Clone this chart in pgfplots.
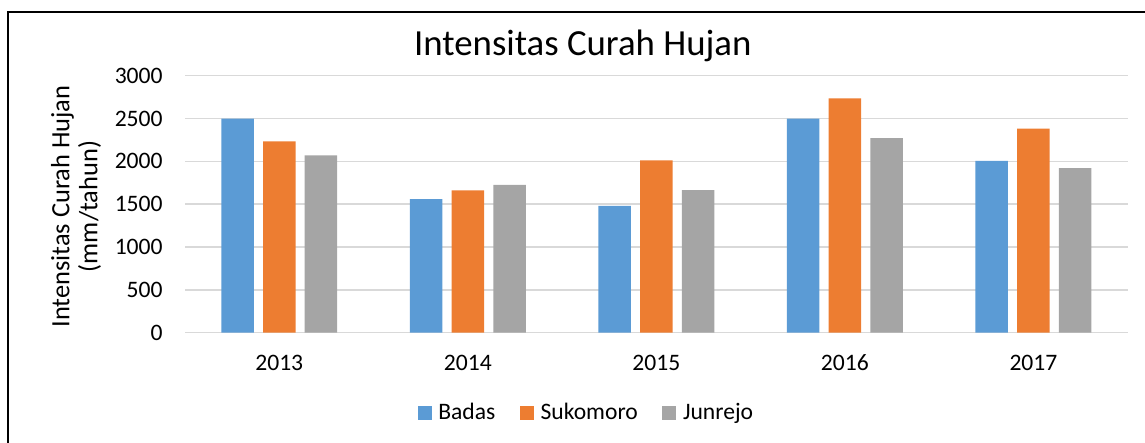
\documentclass[border=0pt]{standalone}
\usepackage{fontspec}
\setmainfont{Carlito}
\usepackage{pgfplots}
\pgfplotsset{compat=1.18}
\definecolor{cBadas}{HTML}{5B9BD5}
\definecolor{cSuko}{HTML}{ED7D31}
\definecolor{cJun}{HTML}{A5A5A5}
\definecolor{cGrid}{HTML}{D9D9D9}
\begin{document}
\begin{tikzpicture}
\useasboundingbox (0pt,0pt) rectangle (572.5pt,221.5pt);
\draw[line width=0.9pt, black] (4pt,-10pt) -- (4pt,215.5pt) -- (590pt,215.5pt);
\begin{axis}[
  at={(92.5pt,55.15pt)}, anchor=south west,
  scale only axis,
  width=471.35pt, height=128.5pt,
  xmin=-0.5, xmax=4.5,
  ymin=0, ymax=3000,
  ytick={0,500,1000,1500,2000,2500,3000},
  xtick={0,1,2,3,4},
  xticklabels={2013,2014,2015,2016,2017},
  ybar=4.6pt, bar width=16.25pt,
  axis line style={draw=none},
  major tick length=0pt,
  ymajorgrids, grid style={cGrid, line width=0.75pt},
  /pgf/number format/assume math mode=true,
  /pgf/number format/1000 sep={},
  ticklabel style={font=\fontsize{11.8}{14}\selectfont, text=black},
  yticklabel style={anchor=east, inner sep=0pt, xshift=-11pt},
  xticklabel style={anchor=base, inner sep=0pt, yshift=-19pt},
  title={Intensitas Curah Hujan},
  title style={at={(rel axis cs:0.422,1.0327)}, anchor=base, inner sep=0pt, font=\fontsize{18.4}{22}\selectfont},
  ylabel={Intensitas Curah Hujan\\(mm/tahun)},
  ylabel style={at={(rel axis cs:-0.1156,0.491)}, anchor=center, align=center, font=\fontsize{13.2}{14}\selectfont, inner sep=0pt},
  legend columns=3,
  legend style={draw=none, at={(rel axis cs:0.4263,-0.311)}, anchor=center,
    font=\fontsize{11.8}{14}\selectfont,
    /tikz/every even column/.append style={column sep=10.75pt},
    nodes={inner sep=1.5pt}},
  legend image code/.code={\draw[#1, draw=none] (0pt,-3.5pt) rectangle (7pt,3.5pt); \path (8.85pt,0pt);},
]
\addplot[fill=cBadas, draw=none] coordinates {(0,2500) (1,1560) (2,1480) (3,2500) (4,2005)};
\addplot[fill=cSuko, draw=none] coordinates {(0,2233) (1,1661) (2,2012) (3,2735) (4,2381)};
\addplot[fill=cJun, draw=none] coordinates {(0,2070) (1,1727) (2,1665) (3,2272) (4,1922)};
\legend{Badas, Sukomoro, Junrejo}
\end{axis}
\end{tikzpicture}
\end{document}
